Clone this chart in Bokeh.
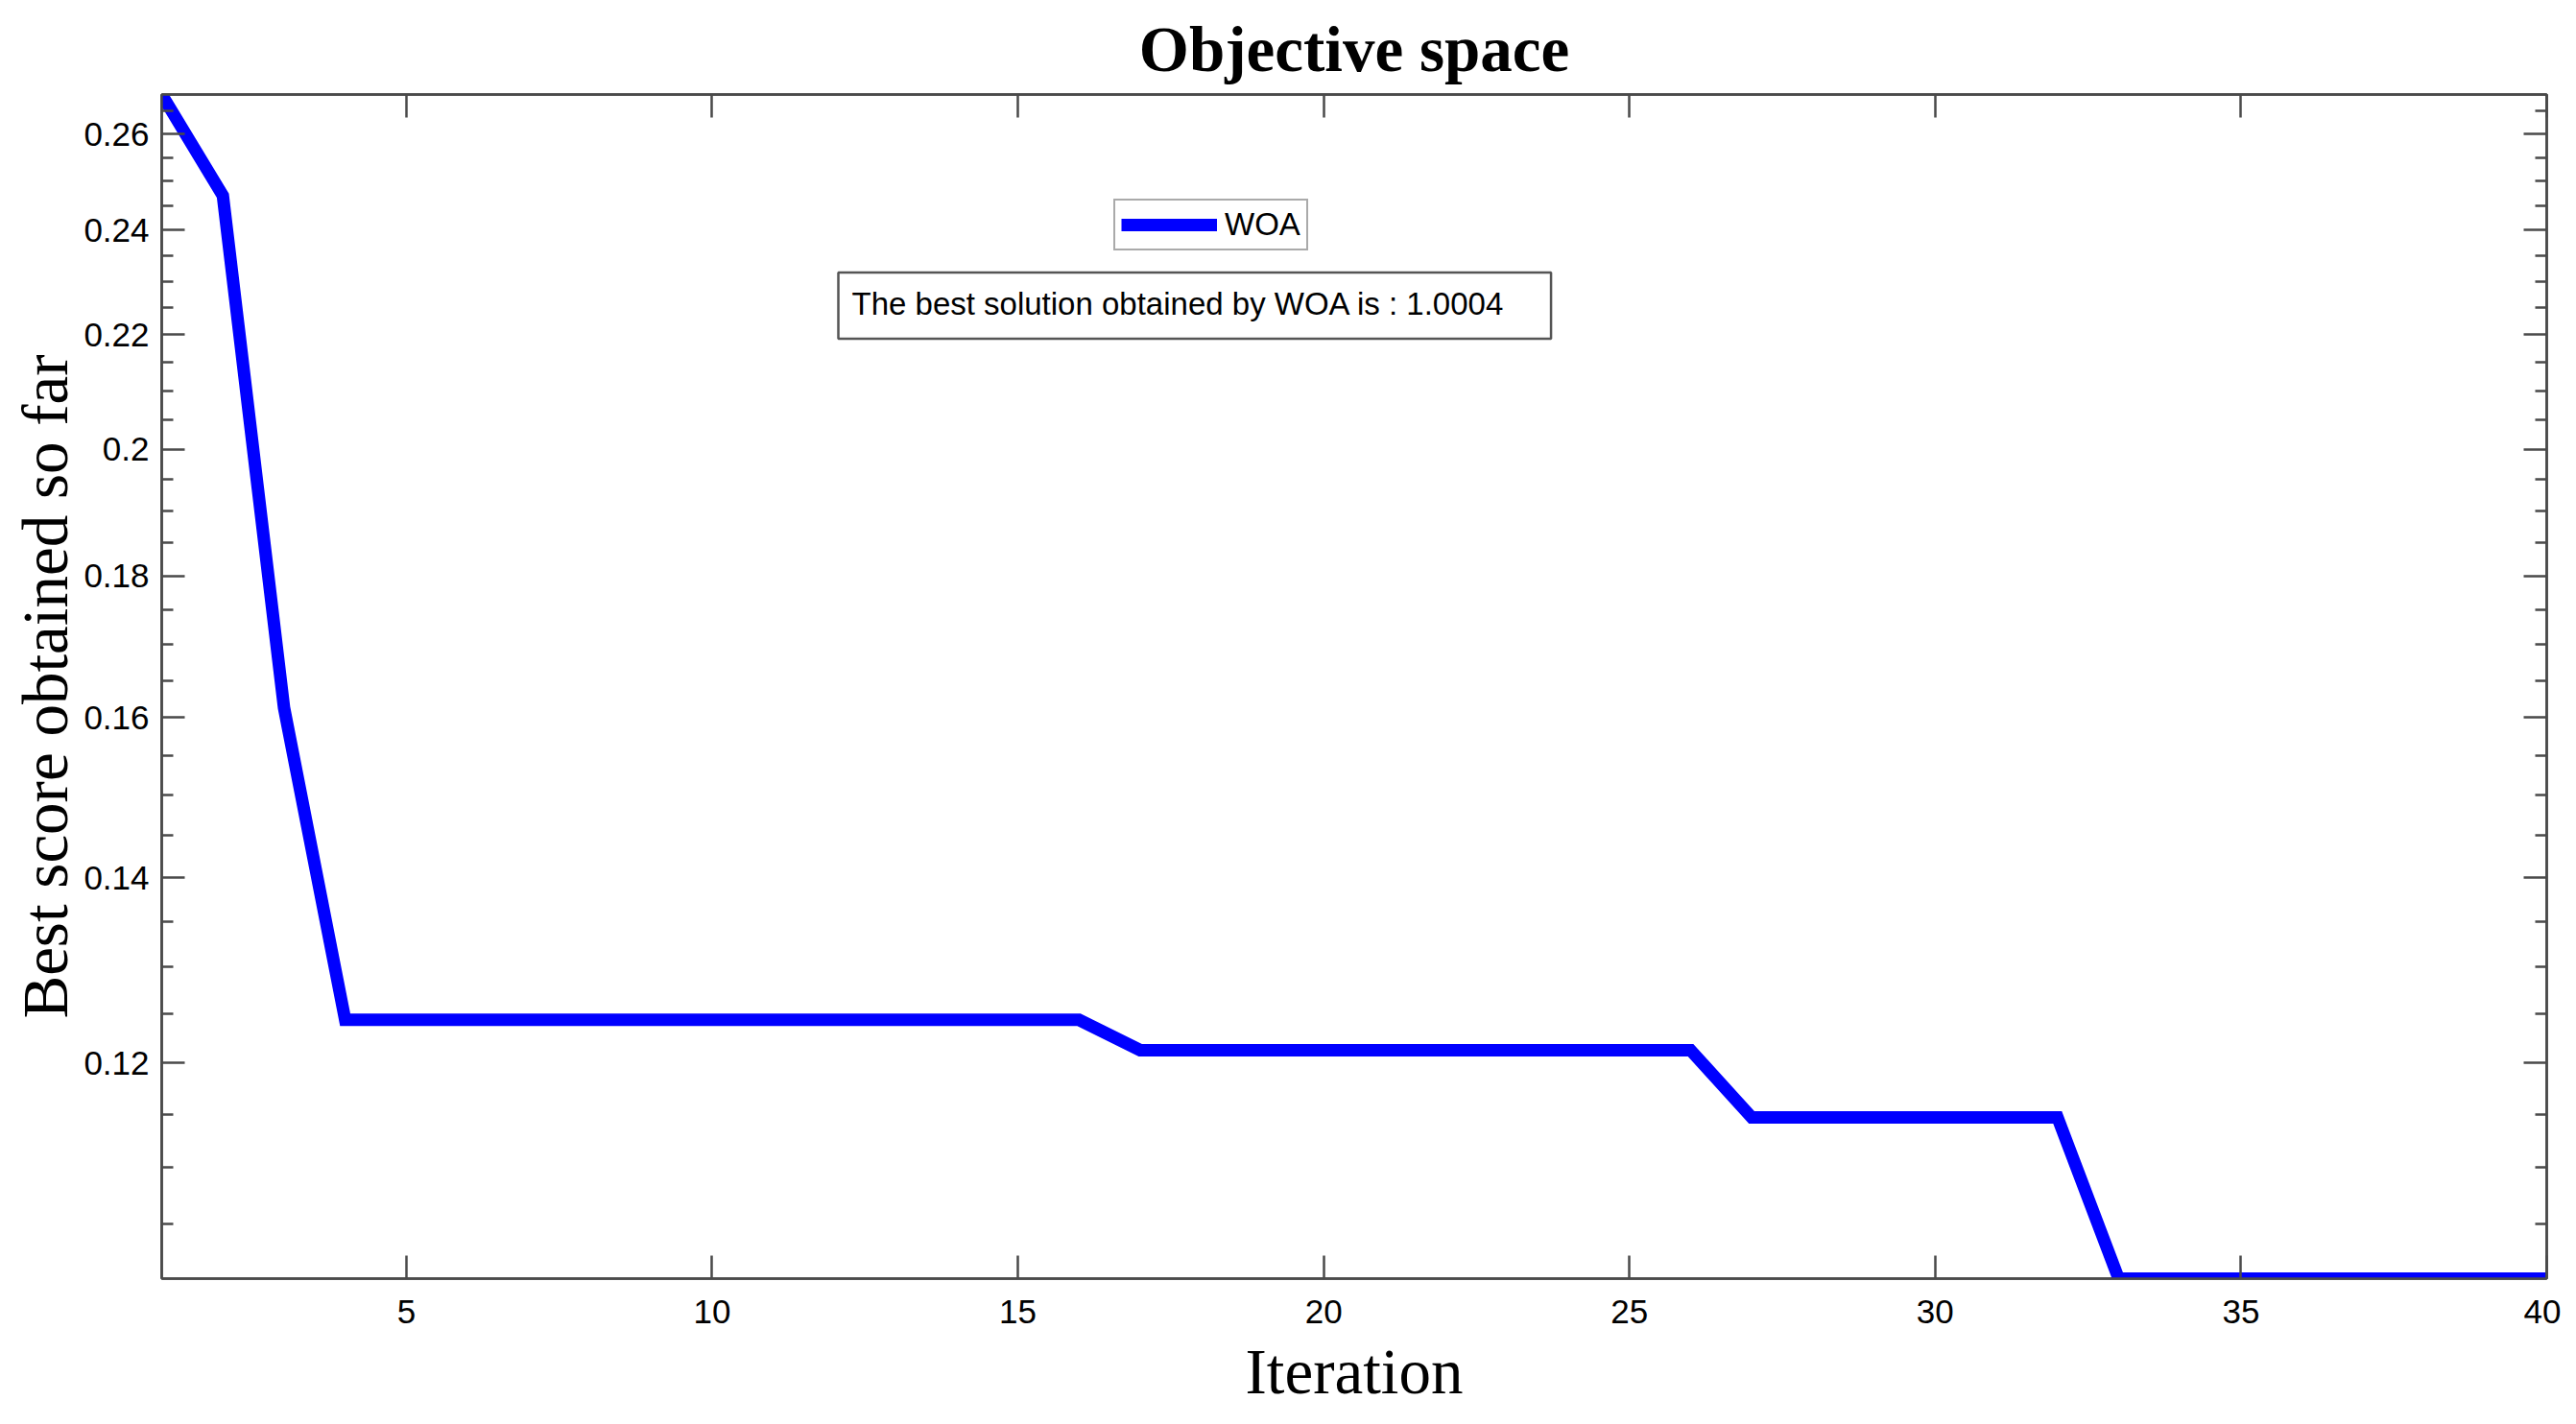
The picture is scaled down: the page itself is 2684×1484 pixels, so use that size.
from bokeh.plotting import figure
from bokeh.models import (Range1d, FixedTicker, LinearAxis, LogAxis, Legend, LegendItem,
                          Label, NumeralTickFormatter, Title, CustomJSTickFormatter)
from bokeh.embed import file_html
from bokeh.resources import INLINE

# ---- data ----
iterations = list(range(1, 41))
best_score = ([0.2687, 0.2470, 0.1613]
              + [0.1244] * 13
              + [0.1213] * 10
              + [0.1147] * 6
              + [0.1003] * 8)
series_name = "WOA"
x_ticks = [5, 10, 15, 20, 25, 30, 35, 40]
y_ticks = [0.12, 0.14, 0.16, 0.18, 0.20, 0.22, 0.24, 0.26]
y_minor_ticks = [0.105, 0.11, 0.115, 0.125, 0.13, 0.135, 0.145, 0.15, 0.155,
                 0.165, 0.17, 0.175, 0.185, 0.19, 0.195, 0.205, 0.21, 0.215,
                 0.225, 0.23, 0.235, 0.245, 0.25, 0.255, 0.265]
title_text = "Objective space"
x_label = "Iteration"
y_label = "Best score obtained so far"
note_text = "The best solution obtained by WOA is : 1.0004"

SERIF = "Liberation Serif"
SANS = "Liberation Sans"
AXC = "#4a4a4a"

FW, FH = 2485, 1237
TOP, LEFT, RIGHT = 97, 168, 15
W, H = LEFT + FW + RIGHT, 1468
BOTTOM = H - TOP - FH

p = figure(width=W, height=H, output_backend="svg", toolbar_location=None,
           y_axis_type="log",
           x_range=Range1d(min(iterations), max(iterations)),
           y_range=Range1d(min(best_score), max(best_score)),
           min_border_left=LEFT, min_border_right=RIGHT,
           min_border_top=TOP, min_border_bottom=BOTTOM)

p.title = Title(text=title_text, align="center", text_font=SERIF, text_font_size="67px",
                text_font_style="bold", text_color="black", standoff=22, offset=0)
p.grid.visible = False
p.outline_line_color = AXC
p.outline_line_width = 2.5
p.background_fill_color = "white"
p.border_fill_color = "white"

xt = FixedTicker(ticks=x_ticks, minor_ticks=[])
yt = FixedTicker(ticks=y_ticks, minor_ticks=y_minor_ticks)
blank = CustomJSTickFormatter(code="return ''")

def style(ax, labels=True, lh=0.9):
    ax.axis_line_color = AXC
    ax.axis_line_width = 2.5
    ax.major_tick_line_color = AXC
    ax.minor_tick_line_color = AXC
    ax.major_tick_line_width = 2.5
    ax.minor_tick_line_width = 2.5
    ax.major_tick_in = 24
    ax.major_tick_out = 0
    ax.minor_tick_in = 12
    ax.minor_tick_out = 0
    if labels:
        ax.major_label_text_font = SANS
        ax.major_label_text_font_size = "35px"
        ax.major_label_text_color = "black"
        ax.major_label_text_line_height = lh
        ax.axis_label_text_font = SERIF
        ax.axis_label_text_font_size = "67px"
        ax.axis_label_text_font_style = "normal"
        ax.axis_label_text_color = "black"
        ax.axis_label_text_line_height = lh
    else:
        ax.formatter = blank
        ax.major_label_standoff = 0

xa = p.xaxis[0]
xa.ticker = xt
style(xa, lh=0.8)
xa.axis_label = x_label
xa.major_label_standoff = 22
xa.axis_label_standoff = 10

ya = p.yaxis[0]
ya.ticker = yt
ya.formatter = NumeralTickFormatter(format="0.[00]")
style(ya)
ya.axis_label = y_label
ya.major_label_standoff = 13
ya.axis_label_standoff = 0

top = LinearAxis(ticker=FixedTicker(ticks=x_ticks, minor_ticks=[]))
style(top, labels=False)
p.add_layout(top, "above")

right = LogAxis(ticker=FixedTicker(ticks=y_ticks, minor_ticks=y_minor_ticks))
style(right, labels=False)
p.add_layout(right, "right")

r = p.line(iterations, best_score, line_color="#0000ff", line_width=13, line_join="miter")

leg = Legend(items=[LegendItem(label=series_name, renderers=[r])],
             location=(992, 1071), orientation="vertical",
             label_text_font=SANS, label_text_font_size="33px", label_text_color="black",
             glyph_width=100, glyph_height=36, label_height=36, label_standoff=8,
             padding=6, margin=0, spacing=0,
             border_line_color="#555555", border_line_width=2.5,
             background_fill_color="white", background_fill_alpha=1.0)
p.add_layout(leg)

note = Label(x=705, y=1014, x_units="screen", y_units="screen", text=note_text,
             text_font=SANS, text_font_size="33px", text_color="black",
             text_align="left", text_baseline="middle", anchor="center_left",
             padding=(14, 48, 14, 18),
             border_line_color="#555555", border_line_width=2.5,
             background_fill_color="white")
p.add_layout(note)

open("out.html", "w").write(file_html(p, INLINE))
